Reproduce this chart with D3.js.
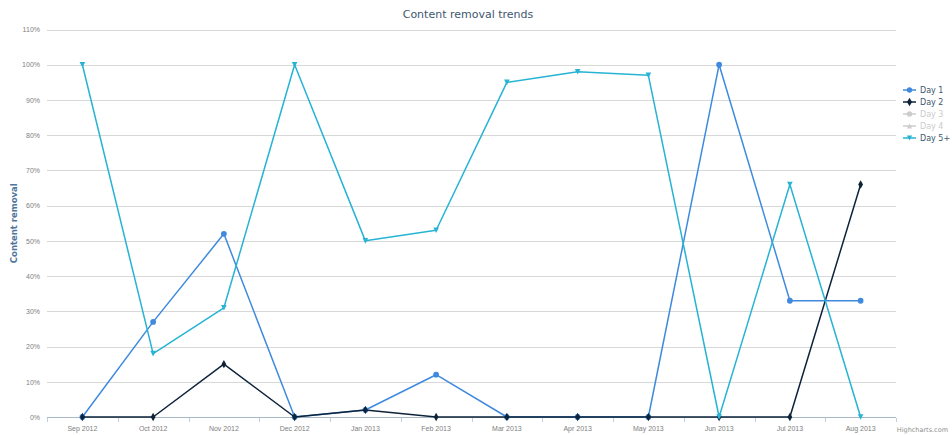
<!DOCTYPE html>
<html>
<head>
<meta charset="utf-8">
<script src="https://cdn.jsdelivr.net/npm/d3@7/dist/d3.min.js"></script>
<style>
  html, body { margin: 0; padding: 0; background: #fff; }
  svg { display: block; font-family: "Lucida Grande", "DejaVu Sans", Verdana, Arial, sans-serif; }
</style>
</head>
<body>
<svg id="chart" width="952" height="435"></svg>
<script>
// Months on the x axis
const months = ["Sep 2012", "Oct 2012", "Nov 2012", "Dec 2012", "Jan 2013", "Feb 2013",
                "Mar 2013", "Apr 2013", "May 2013", "Jun 2013", "Jul 2013", "Aug 2013"];

// Share of content removed, percent
const day1  = [0, 27, 52, 0, 2, 12, 0, 0, 0, 100, 33, 33];
const day2  = [0, 0, 15, 0, 2, 0, 0, 0, 0, 0, 0, 66];
const day5p = [100, 18, 31, 100, 50, 53, 95, 98, 97, 0, 66, 0];

const yTicks = [0, 10, 20, 30, 40, 50, 60, 70, 80, 90, 100, 110];

const seriesList = [
  { name: "Day 1",  values: day1,  color: "#3f8ade", symbol: d3.symbolCircle,   visible: true },
  { name: "Day 2",  values: day2,  color: "#0d233a", symbol: d3.symbolDiamond,  visible: true },
  { name: "Day 3",  values: null,  color: "#cccccc", symbol: d3.symbolCircle,   visible: false },
  { name: "Day 4",  values: null,  color: "#cccccc", symbol: "triangle",        visible: false },
  { name: "Day 5+", values: day5p, color: "#26b3d4", symbol: "triangleDown",    visible: true }
];

const svg = d3.select("#chart");
const plot = { left: 47, right: 896, top: 29.5, bottom: 417 };

const x = d3.scaleBand().domain(months).range([plot.left, plot.right]);
const y = d3.scaleLinear().domain([0, 110]).range([plot.bottom, plot.top]);
const cx = m => x(m) + x.bandwidth() / 2;

// Title
svg.append("text")
  .attr("x", 468).attr("y", 18)
  .attr("text-anchor", "middle")
  .attr("fill", "#3e576f")
  .style("font-size", "11px")
  .text("Content removal trends");

// Horizontal grid
svg.append("g").selectAll("line")
  .data(yTicks.filter(t => t > 0))
  .join("line")
  .attr("x1", plot.left).attr("x2", plot.right)
  .attr("y1", d => Math.round(y(d)) + 0.5).attr("y2", d => Math.round(y(d)) + 0.5)
  .attr("stroke", "#d8d8d8").attr("stroke-width", 1);

// Y axis labels
const yAxis = d3.axisLeft(y).tickValues(yTicks).tickSize(0).tickPadding(7).tickFormat(d => d + "%");
const gy = svg.append("g").attr("transform", `translate(${plot.left},0)`).call(yAxis);
gy.select(".domain").remove();
gy.selectAll("text").attr("fill", "#808080").style("font-size", "7px");

// Y axis title
svg.append("text")
  .attr("transform", `translate(17,${(plot.top + plot.bottom) / 2}) rotate(-90)`)
  .attr("text-anchor", "middle")
  .attr("fill", "#4d759e")
  .style("font-size", "8.5px")
  .style("font-weight", "bold")
  .text("Content removal");

// X axis
const xAxis = d3.axisBottom(x).tickSize(0).tickPadding(9);
const gx = svg.append("g").attr("transform", `translate(0,${plot.bottom})`).call(xAxis);
gx.select(".domain").remove();
gx.selectAll("text").attr("fill", "#808080").style("font-size", "7px");

svg.append("line")
  .attr("x1", plot.left).attr("x2", plot.right)
  .attr("y1", plot.bottom + 0.5).attr("y2", plot.bottom + 0.5)
  .attr("stroke", "#a9b8c8").attr("stroke-width", 1);

// Category boundary ticks
const bounds = months.map(m => x(m)).concat([plot.right]);
svg.append("g").selectAll("line")
  .data(bounds)
  .join("line")
  .attr("x1", d => Math.round(d) + 0.5).attr("x2", d => Math.round(d) + 0.5)
  .attr("y1", plot.bottom + 1).attr("y2", plot.bottom + 5)
  .attr("stroke", "#c0d0e0");

// Marker shapes
function symbolPath(sym, size) {
  if (sym === "triangleDown") {
    const r = Math.sqrt(size) * 0.55;
    return `M${-r},${-r}L${r},${-r}L0,${r}Z`;
  }
  if (sym === "triangle") {
    const r = Math.sqrt(size) * 0.55;
    return `M${-r},${r}L${r},${r}L0,${-r}Z`;
  }
  return d3.symbol().type(sym).size(size)();
}

// Series lines and markers
const line = d3.line().x((d, i) => cx(months[i])).y(d => y(d));
seriesList.filter(s => s.visible).forEach(s => {
  const g = svg.append("g");
  g.append("path")
    .attr("d", line(s.values))
    .attr("fill", "none")
    .attr("stroke", s.color)
    .attr("stroke-width", 1.5)
    .attr("stroke-linejoin", "round");
  g.selectAll("path.marker")
    .data(s.values)
    .join("path")
    .attr("class", "marker")
    .attr("transform", (d, i) => `translate(${cx(months[i])},${y(d)})`)
    .attr("d", symbolPath(s.symbol, s.symbol === d3.symbolDiamond ? 20 : 26))
    .attr("fill", s.color);
});

// Legend
const legend = svg.append("g").attr("transform", "translate(903,90)");
seriesList.forEach((s, i) => {
  const item = legend.append("g").attr("transform", `translate(0,${i * 12})`);
  const c = s.visible ? s.color : "#cccccc";
  item.append("line").attr("x1", 0).attr("x2", 13).attr("y1", 0).attr("y2", 0)
    .attr("stroke", c).attr("stroke-width", 1.5);
  item.append("path").attr("transform", "translate(6.5,0)")
    .attr("d", symbolPath(s.symbol, 22)).attr("fill", c);
  item.append("text").attr("x", 17).attr("y", 3)
    .attr("fill", s.visible ? "#3e576f" : "#cccccc")
    .style("font-size", "8px")
    .text(s.name);
});

// Credits
svg.append("text")
  .attr("x", 948).attr("y", 432)
  .attr("text-anchor", "end")
  .attr("fill", "#909090")
  .style("font-size", "6.5px")
  .text("Highcharts.com");
</script>
</body>
</html>
